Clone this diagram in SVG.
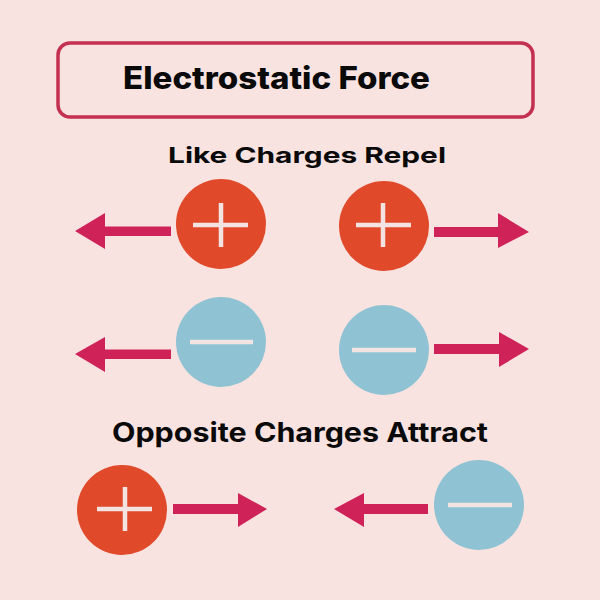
<svg xmlns="http://www.w3.org/2000/svg" width="600" height="600" viewBox="0 0 600 600">
<defs>
<style>
.bg{fill:#f9e3e1}
.title-box{fill:none;stroke:#c4304f;stroke-width:3.5}
.t{font-family:Inter,"Open Sans","Liberation Sans",sans-serif;fill:#0a0a0a}
.pos{fill:#e04a2a}
.neg{fill:#8fc3d4}
.sym{stroke:#f3e3e3;stroke-width:4.5;fill:none}
.arr{fill:#cf2259}
</style>
</defs>
<rect class="bg" x="0" y="0" width="600" height="600"/>
<g id="title">
<rect class="title-box" x="58" y="43" width="475" height="74" rx="12"/>
<text class="t" x="123" y="89" font-size="31" font-weight="800" textLength="307" lengthAdjust="spacingAndGlyphs">Electrostatic Force</text>
</g>
<g id="label-like">
<text class="t" x="168" y="163" font-size="22" font-weight="700" textLength="278" lengthAdjust="spacingAndGlyphs">Like Charges Repel</text>
</g>
<g id="label-opposite">
<text class="t" x="112" y="442" font-size="27" font-weight="700" textLength="376" lengthAdjust="spacingAndGlyphs">Opposite Charges Attract</text>
</g>
<g id="pos-left">
<circle class="pos" cx="221" cy="224" r="45"/>
<path class="sym" d="M193 225H248M221 203V247"/>
</g>
<g id="pos-right">
<circle class="pos" cx="384" cy="226" r="45"/>
<path class="sym" d="M356 225H411M383 203V247"/>
</g>
<g id="neg-left">
<circle class="neg" cx="221" cy="342" r="45"/>
<path class="sym" d="M190 342H253"/>
</g>
<g id="neg-right">
<circle class="neg" cx="384" cy="350" r="45"/>
<path class="sym" d="M352 350H416"/>
</g>
<g id="pos-bottom">
<circle class="pos" cx="122" cy="510" r="45"/>
<path class="sym" d="M97 509H152M125 487V531"/>
</g>
<g id="neg-bottom">
<circle class="neg" cx="479" cy="505" r="45"/>
<path class="sym" d="M448 505H512"/>
</g>
<g id="connectors">
<path class="arr" d="M171 226.5V236H105V249L75 231L105 213V226.5Z"/>
<path class="arr" d="M434 227V237H498V248L529 232L498 213V227Z"/>
<path class="arr" d="M171 349.5V359H105V372L75 354L105 337V349.5Z"/>
<path class="arr" d="M434 344V354H499V367L529 349L499 332V344Z"/>
<path class="arr" d="M173 504V514H238V527L267 509L238 493V504Z"/>
<path class="arr" d="M428 504V514H364V527L334 509L364 493V504Z"/>
</g>
</svg>
